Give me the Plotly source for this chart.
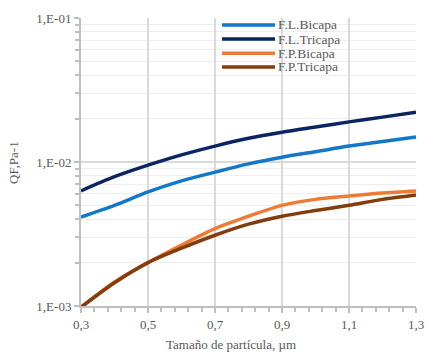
import plotly.graph_objects as go

x_vals = [0.3, 0.4, 0.5, 0.6, 0.7, 0.8, 0.9, 1.0, 1.1, 1.2, 1.3]
series_names = ["F.L.Bicapa", "F.L.Tricapa", "F.P.Bicapa", "F.P.Tricapa"]
fl_bicapa = [0.00415, 0.0050, 0.0062, 0.0074, 0.0085, 0.0097, 0.0108, 0.0118, 0.0129, 0.0139, 0.0149]
fl_tricapa = [0.0063, 0.0079, 0.0095, 0.0112, 0.0129, 0.0146, 0.0161, 0.0175, 0.0190, 0.0205, 0.0222]
fp_bicapa = [0.00098, 0.00147, 0.0020, 0.00265, 0.00345, 0.0042, 0.0050, 0.0055, 0.0058, 0.0061, 0.0063]
fp_tricapa = [0.00098, 0.00145, 0.0020, 0.00252, 0.0031, 0.0037, 0.0042, 0.0046, 0.0050, 0.0055, 0.0059]
y_tickvals = [0.001, 0.01, 0.1]
y_ticktext = ["1,E-03", "1,E-02", "1,E-01"]

colors = ["#1478C8", "#0B2462", "#EE7A35", "#843C0C"]
series = [fl_bicapa, fl_tricapa, fp_bicapa, fp_tricapa]

fig = go.Figure()
for name, ys, c in zip(series_names, series, colors):
    fig.add_trace(go.Scatter(x=x_vals, y=ys, mode="lines", name=name,
                             line=dict(color=c, width=3.5, shape="spline", smoothing=0.8),
                             showlegend=False))

font_color = "#595959"
serif = "Liberation Serif"

minor_y = [m * 10.0 ** e for e in (-3, -2) for m in range(2, 10)]

fig.update_layout(
    width=446, height=356,
    margin=dict(l=81, r=30, t=18, b=50),
    paper_bgcolor="white", plot_bgcolor="white",
    separators=",.",
    font=dict(family=serif, size=12, color=font_color),
    xaxis=dict(range=[0.3, 1.3], tick0=0.3, dtick=0.2, tickformat=".1f",
               showgrid=True, gridcolor="#d9d9d9", gridwidth=1.5,
               showline=True, linecolor="#bfbfbf", linewidth=2,
               ticks="outside", ticklen=5, tickcolor="#bfbfbf", tickwidth=1.5,
               minor=dict(tick0=0.3, dtick=0.04, ticks="outside", ticklen=4,
                          tickcolor="#bfbfbf", showgrid=False),
               zeroline=False, tickfont=dict(family=serif, size=13, color=font_color)),
    yaxis=dict(type="log", range=[-3, -1], tickvals=y_tickvals, ticktext=y_ticktext,
               showgrid=True, gridcolor="#d9d9d9", gridwidth=1.5,
               showline=True, linecolor="#bfbfbf", linewidth=2,
               ticks="outside", ticklen=5, tickcolor="#bfbfbf", tickwidth=1.5,
               minor=dict(tickvals=minor_y, ticks="outside", ticklen=4,
                          tickcolor="#bfbfbf", showgrid=True, gridcolor="#eeeeee",
                          gridwidth=1.2),
               zeroline=False, tickfont=dict(family=serif, size=13, color=font_color)),
)

# axis titles
fig.add_annotation(text="Tamaño de partícula, µm", xref="paper", yref="paper",
                   x=0.448, y=-0.135, xanchor="center", yanchor="middle",
                   showarrow=False, font=dict(family=serif, size=13, color=font_color))
fig.add_annotation(text="QF,Pa-1", xref="paper", yref="paper",
                   x=-0.203, y=0.5, xanchor="center", yanchor="middle", textangle=-90,
                   showarrow=False, font=dict(family=serif, size=13, color=font_color))

# legend drawn manually (long line samples, no box)
row_y = [0.9757, 0.927, 0.878, 0.830]
for name, c, yy in zip(series_names, colors, row_y):
    fig.add_shape(type="line", xref="paper", yref="paper", x0=0.421, x1=0.579,
                  y0=yy, y1=yy, line=dict(color=c, width=3.5))
    fig.add_annotation(text=name, xref="paper", yref="paper", x=0.585, y=yy,
                       xanchor="left", yanchor="middle", showarrow=False,
                       borderpad=0,
                       font=dict(family=serif, size=13.5, color=font_color))

fig.write_html("out.html")
